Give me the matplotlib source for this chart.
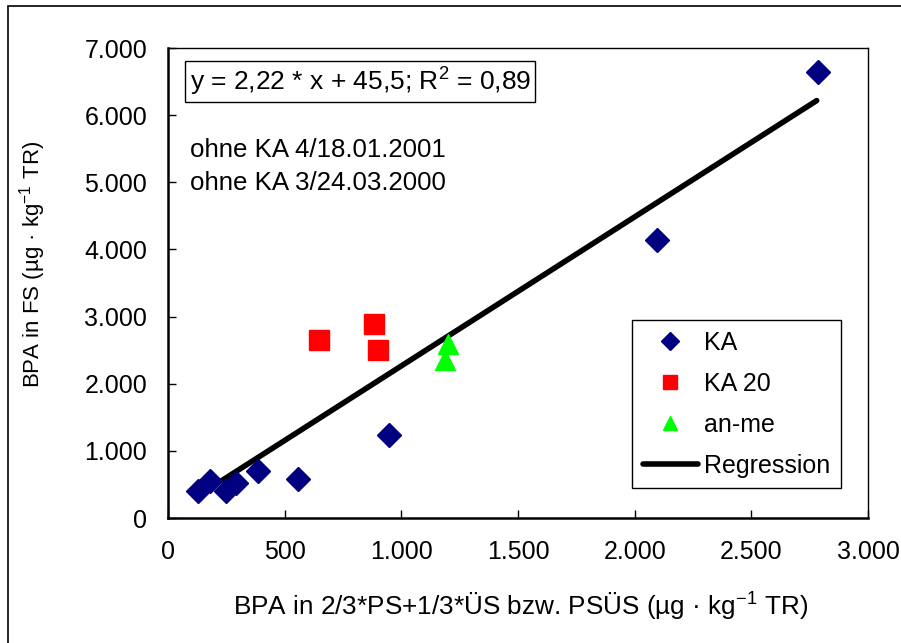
import matplotlib
matplotlib.use('Agg')
import matplotlib.pyplot as plt
from matplotlib.ticker import FuncFormatter, MultipleLocator
from matplotlib.patches import Rectangle

plt.rcParams['font.family'] = ['Liberation Sans', 'DejaVu Sans']
plt.rcParams['mathtext.fontset'] = 'custom'
plt.rcParams['mathtext.rm'] = 'Liberation Sans'
plt.rcParams['mathtext.it'] = 'Liberation Sans'

# data
ka_x = [130, 180, 250, 290, 385, 556, 946, 2097, 2786]
ka_y = [400, 550, 400, 520, 700, 580, 1240, 4140, 6640]
ka20_x = [646, 881, 899]
ka20_y = [2657, 2896, 2507]
anme_x = [1200, 1185]
anme_y = [2590, 2350]
slope = 2.22
intercept = 45.5
reg_x = [230, 2780]
reg_y = [slope * v + intercept for v in reg_x]

FS = 18

fig = plt.figure(figsize=(9.01, 6.43), dpi=100)
ax = fig.add_axes([0.1865, 0.1944, 0.7769, 0.7309])

ax.plot(reg_x, reg_y, color='black', lw=4, solid_capstyle='round', label='Regression', zorder=2)
ax.plot(ka_x, ka_y, ls='none', marker='D', ms=12.5, color='#000080', label='KA', zorder=3)
ax.plot(ka20_x, ka20_y, ls='none', marker='s', ms=14, color='#ff0000', label='KA 20', zorder=3)
ax.plot(anme_x, anme_y, ls='none', marker='^', ms=15, color='#00ff00', label='an-me', zorder=3)

ax.set_xlim(0, 3000)
ax.set_ylim(0, 7000)
ax.xaxis.set_major_locator(MultipleLocator(500))
ax.yaxis.set_major_locator(MultipleLocator(1000))
fmt = FuncFormatter(lambda v, p: f"{int(round(v)):,}".replace(',', '.'))
ax.xaxis.set_major_formatter(fmt)
ax.yaxis.set_major_formatter(fmt)
ax.tick_params(direction='in', length=6, width=1, labelsize=FS)
ax.tick_params(axis='x', pad=16)
ax.tick_params(axis='y', pad=15)
ax.spines['left'].set_linewidth(1.8)
ax.spines['bottom'].set_linewidth(1.8)
ax.spines['top'].set_linewidth(1)
ax.spines['right'].set_linewidth(1)

ax.set_xlabel('BPA in 2/3*PS+1/3*ÜS bzw. PSÜS (µg · kg$^{\\mathrm{-1}}$ TR)', fontsize=18.8)
ax.set_ylabel('BPA in FS (µg · kg$^{\\mathrm{-1}}$ TR)', fontsize=16)
ax.xaxis.set_label_coords(0.503, -0.155)
ax.yaxis.set_label_coords(-0.172, 0.54)

ax.text(0.031, 0.928, 'y = 2,22 * x + 45,5; R$^{\\mathrm{2}}$ = 0,89', transform=ax.transAxes,
        fontsize=19, va='center', ha='left',
        bbox=dict(boxstyle='square,pad=0.17', fc='white', ec='black', lw=1))
ax.text(0.031, 0.783, 'ohne KA 4/18.01.2001', transform=ax.transAxes, fontsize=18.6, va='center')
ax.text(0.031, 0.713, 'ohne KA 3/24.03.2000', transform=ax.transAxes, fontsize=18.6, va='center')

h, l = ax.get_legend_handles_labels()
order = [1, 2, 3, 0]
leg = ax.legend([h[i] for i in order], [l[i] for i in order], loc='upper right',
                bbox_to_anchor=(0.961, 0.421), fontsize=FS, markerscale=0.7,
                frameon=True, fancybox=False, edgecolor='black', framealpha=1,
                labelspacing=0.68, handlelength=2.2, handletextpad=0.25,
                borderpad=0.42, borderaxespad=0)
leg.get_frame().set_linewidth(1)

# outer chart frame
fig.patches.append(Rectangle((8 / 901, -0.1), 1.2, 1 - 6 / 643 + 0.1, transform=fig.transFigure,
                             fill=False, ec='black', lw=1.2))

fig.savefig('out.png', dpi=100)
